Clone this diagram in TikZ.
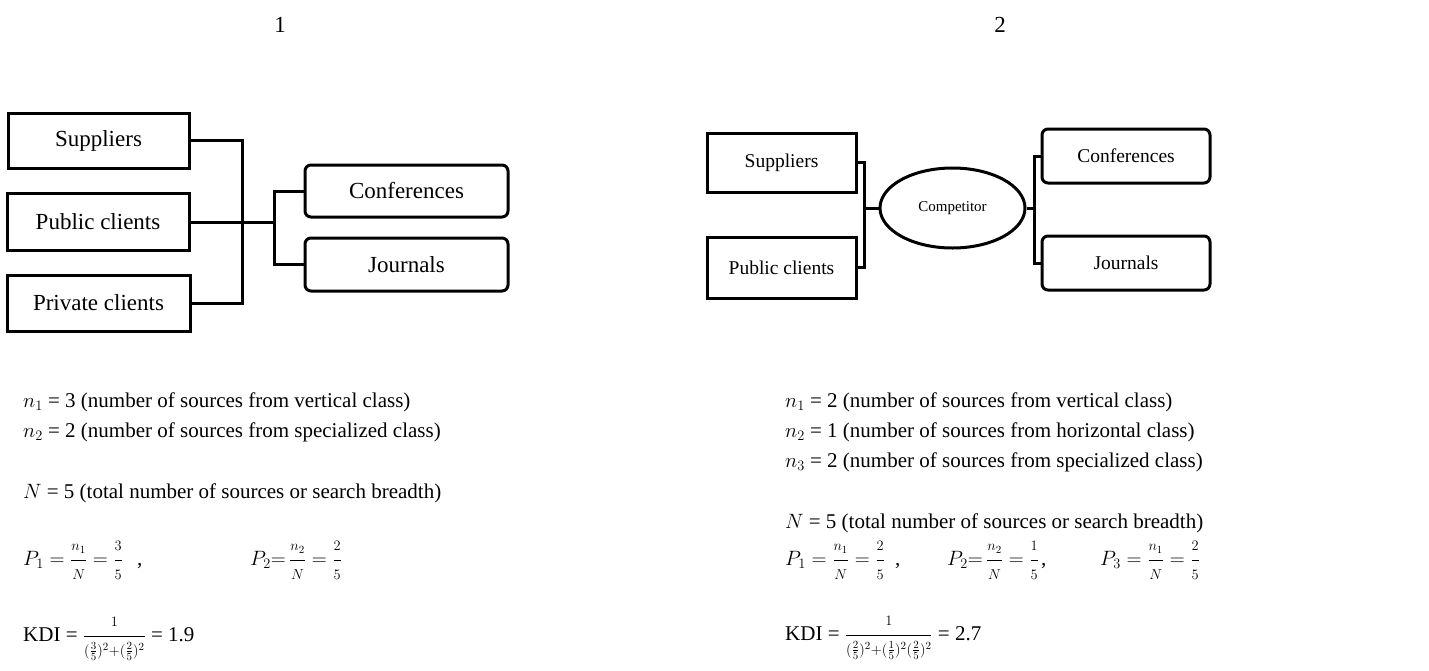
\documentclass[tikz,border=0pt]{standalone}
\usepackage{fontspec}
\setmainfont{Liberation Serif}
\usetikzlibrary{shapes.geometric}
\newcommand{\myfr}[2]{{\displaystyle\frac{\scriptstyle #1}{\scriptstyle #2}}}
\begin{document}
\begin{tikzpicture}[x=1pt,y=-1pt,
  box/.style={draw,line width=3pt,inner sep=0pt,align=center},
  rbox/.style={box,rounded corners=6pt},
  conn/.style={line width=3pt},
  bigf/.style={font=\fontsize{23}{27}\selectfont},
  midf/.style={font=\fontsize{19.5}{23}\selectfont},
  txt/.style={anchor=base west,inner sep=0pt,font=\fontsize{21}{25}\selectfont}]
\useasboundingbox (0,0) rectangle (1429,670);
% titles
\node[bigf] (tt1) at (280,25) {1};
\node[bigf] (tt2) at (1000,25) {2};
% left diagram
\node[box,bigf,minimum width=181pt,minimum height=55pt] (sup1) at (98.5,140.5) {Suppliers};
\node[box,bigf,minimum width=182pt,minimum height=57pt] (pub1) at (98,222) {Public clients};
\node[box,bigf,minimum width=183pt,minimum height=56pt] (pri1) at (98.5,303) {Private clients};
\node[rbox,bigf,minimum width=203pt,minimum height=52pt] (conf1) at (406.5,191) {Conferences};
\node[rbox,bigf,minimum width=203pt,minimum height=53pt] (jour1) at (406.5,264.5) {Journals};
\coordinate (a1) at (242,140.5);
\coordinate (j1) at (274,222);
\draw[conn] (sup1.east) -- (a1) |- (pri1.east);
\draw[conn] (pub1.east) -- (j1);
\draw[conn] (conf1.west) -| (j1) |- (jour1.west);
% right diagram
\node[box,midf,minimum width=149pt,minimum height=59pt] (sup2) at (781.5,162.5) {Suppliers};
\node[box,midf,minimum width=149pt,minimum height=61pt] (pub2) at (781.5,267.5) {Public clients};
\node[draw,ellipse,line width=3pt,inner sep=0pt,minimum width=145pt,minimum height=80pt,font=\fontsize{15}{18}\selectfont] (comp) at (952.5,208) {Competitor};
\node[rbox,midf,minimum width=168pt,minimum height=54pt] (conf2) at (1126,156) {Conferences};
\node[rbox,midf,minimum width=168pt,minimum height=54pt] (jour2) at (1126,263) {Journals};
\coordinate (b2) at (864,208);
\coordinate (b3) at (1034,208);
\draw[conn] (sup2.east) -| (b2) |- (pub2.east);
\draw[conn] (b2) -- (comp.west);
\draw[conn] (comp.east) -- (b3);
\draw[conn] (conf2.west) -| (b3) |- (jour2.west);
% left formulas
\node[txt] (l1) at (23,407) {$n_1$ = 3 (number of sources from vertical class)};
\node[txt] (l2) at (23,437) {$n_2$ = 2 (number of sources from specialized class)};
\node[txt] (l3) at (23,498) {$N$ = 5 (total number of sources or search breadth)};
\node[txt] (l4) at (23,565) {$P_1 = \myfr{n_1}{N} = \myfr{3}{5}$};
\node[txt] (l4c) at (137,565) {,};
\node[txt] (l5) at (250,565) {$P_2{=}\,\myfr{n_2}{N} = \myfr{2}{5}$};
\node[txt] (l6) at (23,641) {KDI = $\myfr{1}{(\frac{3}{5})^2+(\frac{2}{5})^2}$ = 1.9};
% right formulas
\node[txt] (r1) at (785,407) {$n_1$ = 2 (number of sources from vertical class)};
\node[txt] (r2) at (785,437) {$n_2$ = 1 (number of sources from horizontal class)};
\node[txt] (r3) at (785,467) {$n_3$ = 2 (number of sources from specialized class)};
\node[txt] (r4) at (785,528) {$N$ = 5 (total number of sources or search breadth)};
\node[txt] (r5) at (785,565) {$P_1 = \myfr{n_1}{N} = \myfr{2}{5}$};
\node[txt] (r5c) at (895,565) {,};
\node[txt] (r6) at (947,565) {$P_2{=}\,\myfr{n_2}{N} = \myfr{1}{5}$};
\node[txt] (r6c) at (1041,565) {,};
\node[txt] (r7) at (1100,565) {$P_3 = \myfr{n_1}{N} = \myfr{2}{5}$};
\node[txt] (r8) at (785,640) {KDI = $\myfr{1}{(\frac{2}{5})^2+(\frac{1}{5})^2(\frac{2}{5})^2}$ = 2.7};
\end{tikzpicture}
\end{document}
